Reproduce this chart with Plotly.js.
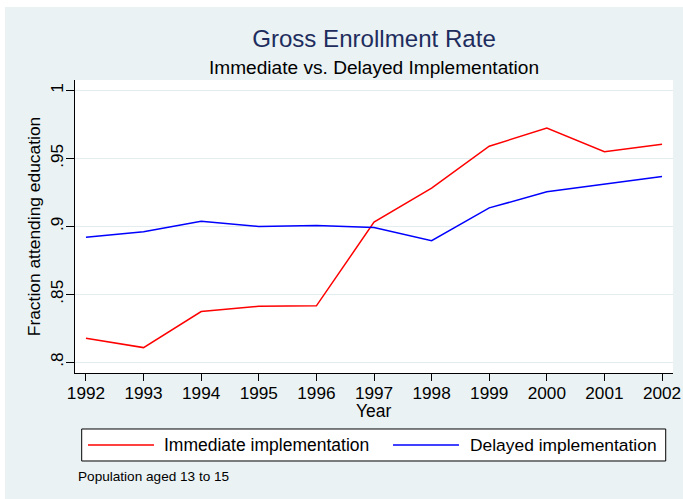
<!DOCTYPE html>
<html>
<head>
<meta charset="utf-8">
<script src="https://cdn.plot.ly/plotly-3.0.1.min.js"></script>
<style>
  html, body { margin: 0; padding: 0; background: #ffffff; width: 683px; height: 499px; overflow: hidden; }
  #chart { position: absolute; left: 5px; top: 7px; width: 678px; height: 492px; }
</style>
</head>
<body>
<div id="chart"></div>
<script>
// ---- data ----
const years = [1992, 1993, 1994, 1995, 1996, 1997, 1998, 1999, 2000, 2001, 2002];
const immediate = [0.8177, 0.8108, 0.8373, 0.8412, 0.8415, 0.9031, 0.9281, 0.9590, 0.9723, 0.9549, 0.9605];
const delayed   = [0.8920, 0.8960, 0.9038, 0.8999, 0.9006, 0.8991, 0.8895, 0.9136, 0.9254, 0.9311, 0.9367];
const seriesNames = ["Immediate implementation", "Delayed implementation"];
const yTickVals = [0.8, 0.85, 0.9, 0.95, 1];
const yTickText = [".8", ".85", ".9", ".95", "1"];
const titleText = "Gross Enrollment Rate";
const subtitleText = "Immediate vs. Delayed Implementation";
const xTitle = "Year";
const yTitle = "Fraction attending education";
const noteText = "Population aged 13 to 15";

const FONT = "Liberation Sans, Arial, Helvetica, sans-serif";
const RED = "#ff0000", BLUE = "#0000ff";

const traces = [
  { x: years, y: immediate, type: "scatter", mode: "lines", name: seriesNames[0],
    line: { color: RED, width: 1.5 }, showlegend: false },
  { x: years, y: delayed, type: "scatter", mode: "lines", name: seriesNames[1],
    line: { color: BLUE, width: 1.5 }, showlegend: false }
];

// legend geometry (paper coords)
const legY = -0.2457;
const layout = {
  width: 678, height: 492,
  margin: { l: 70, r: 10, t: 73, b: 126, autoexpand: false },
  paper_bgcolor: "#eaf2f3",
  plot_bgcolor: "#ffffff",
  font: { family: FONT, color: "#000000", size: 17 },
  title: {
    text: titleText,
    font: { family: FONT, size: 24.1, color: "#1e2d5e" },
    x: 0.5, xref: "paper", xanchor: "center",
    y: 0.936, yref: "container", yanchor: "middle"
  },
  xaxis: {
    range: [1991.81, 2002.19],
    tickvals: years,
    ticktext: years.map(String),
    ticks: "outside", ticklen: 7, tickwidth: 1, tickcolor: "#000000",
    ticklabelstandoff: -3,
    showline: true, linecolor: "#000000", linewidth: 1,
    showgrid: false, zeroline: false,
    tickfont: { family: FONT, size: 17.2, color: "#000000" },
    automargin: false, fixedrange: true
  },
  yaxis: {
    range: [0.7921, 1.0077],
    tickvals: yTickVals,
    ticktext: yTickText,
    tickangle: -90,
    ticks: "outside", ticklen: 8, tickwidth: 1, tickcolor: "#000000",
    ticklabelstandoff: -4,
    showline: true, linecolor: "#000000", linewidth: 1,
    showgrid: true, gridcolor: "#e3edef", gridwidth: 1.5,
    zeroline: false,
    tickfont: { family: FONT, size: 17.2, color: "#000000" },
    title: { text: yTitle, font: { family: FONT, size: 17.4, color: "#000000" }, standoff: 2 },
    automargin: false, fixedrange: true
  },
  shapes: [
    { type: "rect", xref: "paper", yref: "paper", x0: 0.0112, x1: 0.9878, y0: -0.1911, y1: -0.3003,
      line: { color: "#000000", width: 1 }, fillcolor: "#ffffff", layer: "below" },
    { type: "line", xref: "paper", yref: "paper", x0: 0.0217, x1: 0.1321, y0: legY, y1: legY,
      line: { color: RED, width: 1.5 } },
    { type: "line", xref: "paper", yref: "paper", x0: 0.5318, x1: 0.6421, y0: legY, y1: legY,
      line: { color: BLUE, width: 1.5 } }
  ],
  annotations: [
    { text: subtitleText, xref: "paper", yref: "paper", x: 0.5, y: 1.043,
      xanchor: "center", yanchor: "middle", showarrow: false,
      font: { family: FONT, size: 19.1, color: "#000000" } },
    { text: xTitle, xref: "paper", yref: "paper", x: 0.5, y: -0.128,
      xanchor: "center", yanchor: "middle", showarrow: false, borderpad: 0,
      font: { family: FONT, size: 17.5, color: "#000000" } },
    { text: seriesNames[0], xref: "paper", yref: "paper", x: 0.146, y: legY,
      xanchor: "left", yanchor: "middle", showarrow: false,
      font: { family: FONT, size: 17.5, color: "#000000" } },
    { text: seriesNames[1], xref: "paper", yref: "paper", x: 0.6567, y: legY,
      xanchor: "left", yanchor: "middle", showarrow: false,
      font: { family: FONT, size: 17.4, color: "#000000" } },
    { text: noteText, xref: "paper", yref: "paper", x: 0.001, y: -0.3539,
      xanchor: "left", yanchor: "middle", showarrow: false,
      font: { family: FONT, size: 13.6, color: "#000000" } }
  ]
};

Plotly.newPlot("chart", traces, layout, { displayModeBar: false, staticPlot: true });
</script>
</body>
</html>
